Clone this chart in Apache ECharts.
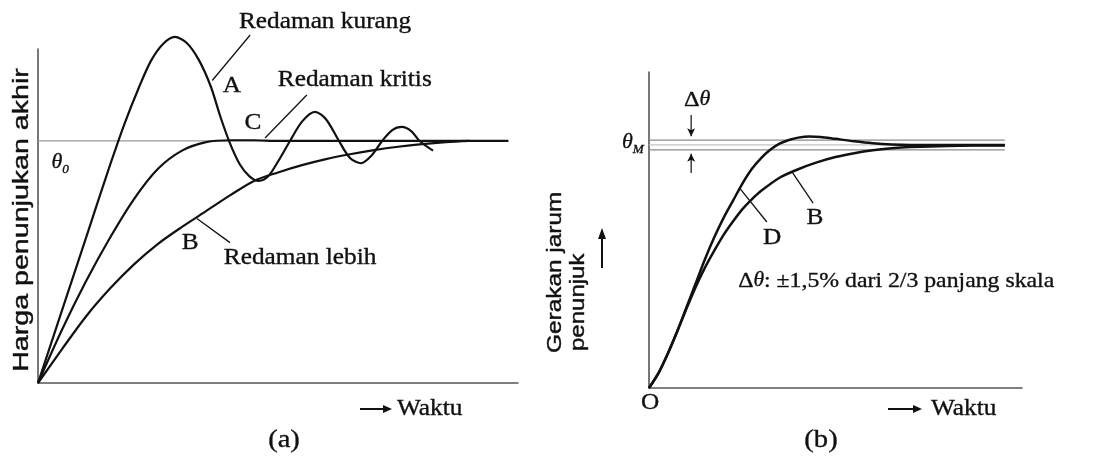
<!DOCTYPE html>
<html>
<head>
<meta charset="utf-8">
<title>Redaman</title>
<script src="https://cdn.jsdelivr.net/npm/echarts/dist/echarts.min.js"></script>
</head>
<body style="margin:0;background:#fff">
<div id="main" style="width:1111px;height:465px"></div>
<script>
// (a) respon jarum, theta0 = 1, waktu dalam satuan bebas
var curveA = [[0,0],[0.5,0.3],[1.0,0.6],[1.5,0.9],[1.8,1.07],[2.1,1.22],[2.35,1.33],[2.6,1.40],[2.85,1.43],[3.1,1.405],[3.35,1.335],[3.6,1.225],[3.8,1.1],[4.0,0.99],[4.2,0.905],[4.4,0.855],[4.6,0.835],[4.8,0.855],[5.0,0.915],[5.25,1.0],[5.5,1.08],[5.77,1.12],[6.0,1.09],[6.27,1.0],[6.5,0.93],[6.73,0.908],[6.95,0.94],[7.17,1.0],[7.38,1.045],[7.58,1.058],[7.78,1.04],[7.95,1.0],[8.23,0.96]];
var curveC = [[0,0],[0.5,0.22],[1.0,0.42],[1.5,0.6],[2.0,0.76],[2.5,0.885],[3.0,0.96],[3.5,0.995],[4.0,1.003],[4.5,1.003],[5.0,1.0],[9.8,1.0]];
var curveB = [[0,0],[0.5,0.14],[1.0,0.275],[1.5,0.39],[2.0,0.49],[2.5,0.575],[3.0,0.645],[3.5,0.71],[4.0,0.775],[4.5,0.835],[5.0,0.87],[5.5,0.9],[6.0,0.925],[6.5,0.945],[7.0,0.962],[7.5,0.976],[8.0,0.987],[8.5,0.995],[9.0,1.0]];
var theta0Line = [[0,1],[9.8,1]];

// (b) jarum dengan batas +-delta theta
var curveD = [[0,0],[0.25,0.06],[0.5,0.14],[0.75,0.23],[1.0,0.33],[1.25,0.43],[1.5,0.53],[1.75,0.62],[2.0,0.7],[2.25,0.77],[2.5,0.84],[2.75,0.9],[3.0,0.945],[3.25,0.98],[3.5,1.005],[3.75,1.02],[4.0,1.03],[4.3,1.035],[4.6,1.033],[5.0,1.025],[5.5,1.015],[6.0,1.007],[6.5,1.002],[7.0,1.0],[8.0,1.0],[9.54,1.0]];
var curveBb = [[0,0],[0.25,0.06],[0.5,0.14],[0.75,0.23],[1.0,0.325],[1.25,0.415],[1.5,0.495],[1.75,0.565],[2.0,0.63],[2.25,0.685],[2.5,0.735],[2.75,0.775],[3.0,0.81],[3.5,0.865],[4.0,0.9],[4.5,0.928],[5.0,0.95],[5.5,0.966],[6.0,0.978],[6.5,0.986],[7.0,0.991],[8.0,0.996],[9.54,0.998]];
var bandLines = [1.02, 1.0, 0.98];
var bandEnd = 9.54;

// garis penunjuk label [dari, ke]
var leadersA = [[[4.42,1.438],[3.63,1.25]], [[5.6,1.19],[4.73,1.012]], [[3.31,0.68],[4.0,0.58]]];
var leadersB = [[[2.44,0.82],[3.16,0.683]], [[3.83,0.89],[4.40,0.761]]];

var labelsA = [
  ['Redaman kurang', 5.98, 1.49],
  ['A', 4.04, 1.227],
  ['Redaman kritis', 6.6, 1.252],
  ['C', 4.48, 1.074],
  ['B', 3.17, 0.579],
  ['Redaman lebih', 5.46, 0.517]
];
var labelsB = [
  ['D', 3.30, 0.617],
  ['B', 4.45, 0.70],
  ['O', 0.03, -0.062]
];

var ink = '#111';
var serif = "'Liberation Serif', 'DejaVu Serif', serif";
var sans = "'Liberation Sans', 'DejaVu Sans', sans-serif";

var chart = echarts.init(document.getElementById('main'));

function line(data, gi, opt) {
  opt = opt || {};
  return {
    type: 'line', xAxisIndex: gi, yAxisIndex: gi, data: data,
    smooth: opt.smooth === undefined ? 0.3 : opt.smooth,
    symbol: 'none', clip: false, silent: true, z: opt.z || 3,
    lineStyle: { color: opt.color || ink, width: opt.width || 2.2 }
  };
}

function axis(gi, max) {
  return {
    type: 'value', gridIndex: gi, min: 0, max: max,
    axisLine: { show: true, onZero: false, lineStyle: { color: '#555', width: 1.6 } },
    axisTick: { show: false }, axisLabel: { show: false }, splitLine: { show: false }
  };
}

var series = [];
series.push(line(theta0Line, 0, { smooth: false, color: '#999', width: 1.2, z: 2 }));
series.push(line(curveA, 0));
series.push(line(curveC, 0));
series.push(line(curveB, 0));
leadersA.forEach(function (l) { series.push(line(l, 0, { smooth: false, width: 1.3 })); });

bandLines.forEach(function (v, i) {
  series.push(line([[0, v], [bandEnd, v]], 1, { smooth: false, color: i === 1 ? '#c4c4c4' : '#8a8a8a', width: 1.2, z: 2 }));
});
series.push(line(curveD, 1, { width: 2.5 }));
series.push(line(curveBb, 1, { width: 2.5 }));
leadersB.forEach(function (l) { series.push(line(l, 1, { smooth: false, width: 1.3 })); });

// panah delta theta
function arrowSeries(from, to, rot) {
  var s = line([from, { value: to, symbol: 'arrow', symbolSize: [6, 8], symbolRotate: rot }], 1, { smooth: false, width: 1.2 });
  s.showSymbol = true;
  s.itemStyle = { color: ink };
  return s;
}
series.push(arrowSeries([1.13, 1.123], [1.13, 1.036], 180));
series.push(arrowSeries([1.13, 0.885], [1.13, 0.964], 0));

chart.setOption({
  animation: false,
  grid: [
    { left: 38, right: 593, top: 49, bottom: 82 },
    { left: 649, right: 89, top: 72, bottom: 77 }
  ],
  xAxis: [axis(0, 10), axis(1, 10)],
  yAxis: [axis(0, 1.38), axis(1, 1.3)],
  series: series
});

// teks anotasi
function txt(x, y, text, size, extra) {
  var el = {
    type: 'text', x: x, y: y, scaleX: 1.1, z: 10, silent: true,
    style: { text: text, fontSize: size, fontFamily: serif, fill: ink, stroke: ink, lineWidth: 0.35,
      align: 'center', verticalAlign: 'middle' }
  };
  if (extra) for (var k in extra) el.style[k] = extra[k];
  return el;
}
function px(gi, p) { return chart.convertToPixel({ gridIndex: gi }, p); }

var g = [];
labelsA.forEach(function (l) { var p = px(0, [l[1], l[2]]); g.push(txt(p[0], p[1], l[0], 23)); });
labelsB.forEach(function (l) { var p = px(1, [l[1], l[2]]); g.push(txt(p[0], p[1], l[0], 23)); });

var rich = {
  n: { fontFamily: serif, fontSize: 22, fill: ink, stroke: ink, lineWidth: 0.35, lineHeight: 26 },
  i: { fontFamily: serif, fontSize: 20, fontStyle: 'italic', fill: ink, stroke: ink, lineWidth: 0.3, lineHeight: 26 },
  s: { fontFamily: serif, fontSize: 12, fontStyle: 'italic', fill: ink, verticalAlign: 'bottom' }
};
var p;
p = px(0, [0.46, 0.909]); g.push(txt(p[0], p[1], '{i|θ}{s|0}', 20, { rich: rich }));
p = px(1, [-0.43, 1.008]); g.push(txt(p[0], p[1], '{i|θ}{s|M}', 20, { rich: rich }));
p = px(1, [1.29, 1.185]); g.push(txt(p[0], p[1], '{n|Δ}{i|θ}', 22, { rich: rich }));
p = px(1, [2.39, 0.44]);
var longT = txt(p[0], p[1], '{n|Δ}{i|θ}{n|: ±1,5% dari 2/3 panjang skala}', 22, { rich: rich, align: 'left' });
longT.scaleX = 1.08;
g.push(longT);

// judul sumbu
function sideTitle(x, y, text, size, sx, align) {
  g.push({ type: 'text', x: x, y: y, rotation: Math.PI / 2, scaleX: sx, silent: true,
    style: { text: text, fontSize: size, fontFamily: sans, fill: ink, stroke: ink, lineWidth: 0.4,
      align: align, verticalAlign: 'middle' } });
}
sideTitle(22, 220, 'Harga penunjukan akhir', 22, 1.3, 'center');
sideTitle(555, 353, 'Gerakan jarum', 20, 1.22, 'left');
sideTitle(578, 351, 'penunjuk', 20, 1.2, 'left');

// panah kecil
function arrowRight(x0, x1, y) {
  g.push({ type: 'line', silent: true, shape: { x1: x0, y1: y, x2: x1 - 6, y2: y }, style: { stroke: ink, lineWidth: 2 } });
  g.push({ type: 'polygon', silent: true, shape: { points: [[x1 - 9, y - 4], [x1, y], [x1 - 9, y + 4]] }, style: { fill: ink } });
}
arrowRight(360, 392, 409);
arrowRight(888, 922, 409);
g.push({ type: 'line', silent: true, shape: { x1: 602, y1: 268, x2: 602, y2: 236 }, style: { stroke: ink, lineWidth: 2 } });
g.push({ type: 'polygon', silent: true, shape: { points: [[598, 239], [602, 228], [606, 239]] }, style: { fill: ink } });

g.push(txt(397, 409, 'Waktu', 23, { align: 'left' }));
g.push(txt(931, 409, 'Waktu', 23, { align: 'left' }));
g.push(txt(284, 440, '(a)', 26));
g.push(txt(821, 440, '(b)', 26));

chart.setOption({ graphic: g });
</script>
</body>
</html>
